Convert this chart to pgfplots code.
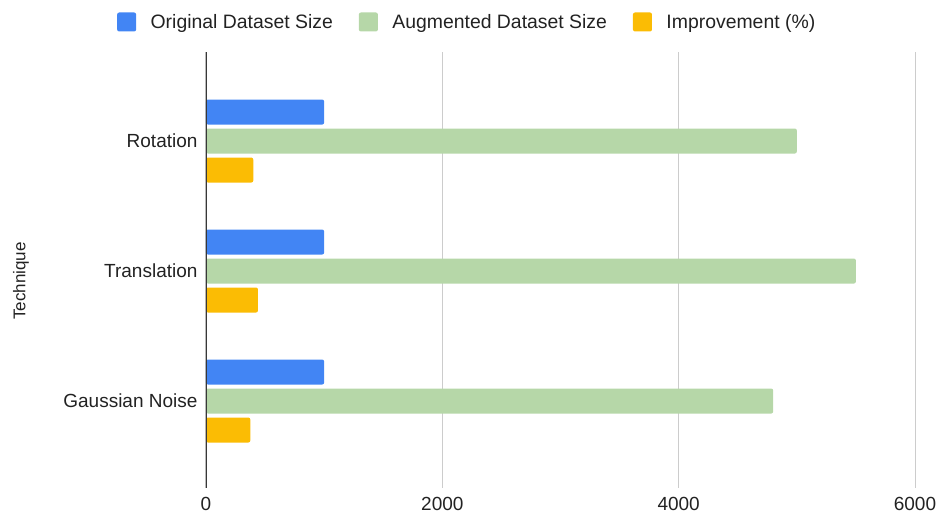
\documentclass[border=0pt]{standalone}
\usepackage{fontspec}
\setmainfont{Liberation Sans}
\usepackage{pgfplots}
\pgfplotsset{compat=1.18}
\definecolor{cblue}{HTML}{4285F4}
\definecolor{cgreen}{HTML}{B6D7A8}
\definecolor{cyellow}{HTML}{FBBC04}
\definecolor{gridc}{HTML}{CCCCCC}
\definecolor{txt}{HTML}{222222}
\begin{document}
\begin{tikzpicture}
\begin{axis}[
  name=ax,
  scale only axis, width=709pt, height=436pt,
  xbar, bar width=25pt,
  xmin=0, xmax=6000, ymin=-0.669, ymax=2.685,
  xtick={0,2000,4000,6000},
  ytick={0,1,2}, yticklabels={Gaussian Noise, Translation, Rotation},
  axis line style={draw=none},
  major tick length=0pt,
  xmajorgrids, grid style={draw=gridc, line width=1pt},
  tick label style={font=\fontsize{19}{22}\selectfont, text=txt},
  /pgf/number format/assume math mode=true,
  /pgf/number format/1000 sep={},
  xticklabel style={yshift=-6pt},
  yticklabel style={xshift=-5pt},
  ylabel={Technique},
  every axis y label/.style={at={(axis description cs:0,0.475)}, xshift=-185pt, rotate=90, anchor=center, font=\fontsize{17}{20}\selectfont, text=txt},
  legend columns=3,
  legend style={at={(axis description cs:0.367,1)}, anchor=center, yshift=30pt,
    draw=none, fill=none, inner sep=0pt,
    font=\fontsize{19.4}{22}\selectfont, text=txt,
    nodes={inner sep=0pt},
    /tikz/every odd column/.append style={column sep=14.5pt},
    /tikz/every even column/.append style={column sep=26pt}},
  legend image code/.code={\fill[#1, draw=none, rounded corners=2pt] (0pt,-9.5pt) rectangle (19pt,9.5pt);},
  legend cell align=left,
]
\addplot[fill=cblue, draw=none, rounded corners=2pt, bar shift=29pt]
  coordinates {(1000,0) (1000,1) (1000,2)};
\addlegendentry{Original Dataset Size}
\addplot[fill=cgreen, draw=none, rounded corners=2pt, bar shift=0pt]
  coordinates {(4800,0) (5500,1) (5000,2)};
\addlegendentry{Augmented Dataset Size}
\addplot[fill=cyellow, draw=none, rounded corners=2pt, bar shift=-29pt]
  coordinates {(375,0) (440,1) (400,2)};
\addlegendentry{Improvement (\%)}
\draw[color=txt!90, line width=1.4pt] (axis cs:0,-0.669) -- (axis cs:0,2.685);
\end{axis}
\pgfresetboundingbox
\path ([shift={(-206pt,-25pt)}]ax.south west) rectangle ([shift={(21pt,52pt)}]ax.north east);
\end{tikzpicture}
\end{document}
